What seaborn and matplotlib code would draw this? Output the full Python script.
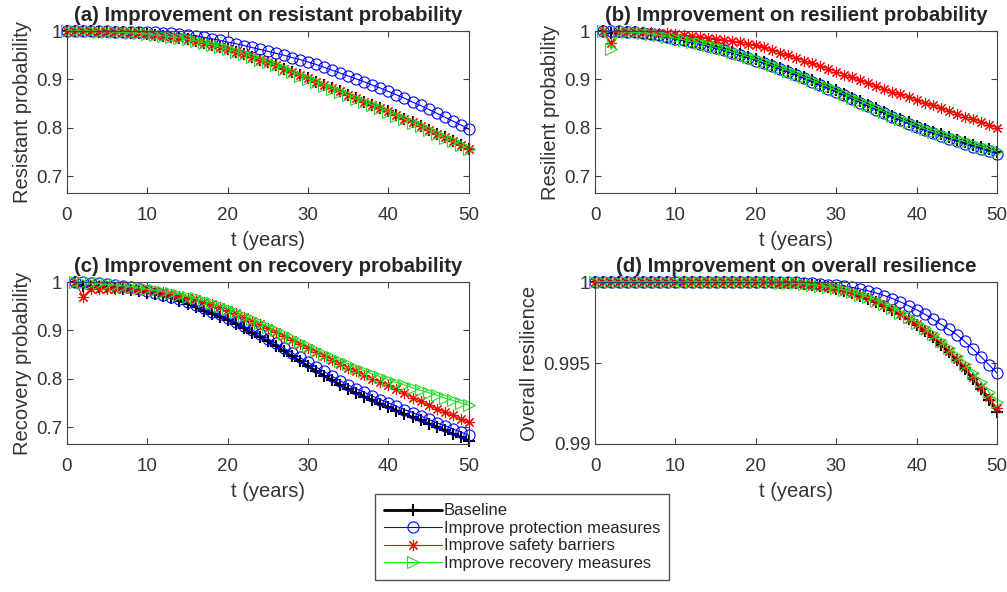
import numpy as np
import seaborn as sns
import matplotlib
matplotlib.use("Agg")
import matplotlib.pyplot as plt
from matplotlib.ticker import FuncFormatter

# --- data ---
t_full = list(range(0, 51))   # panels (a) and (d)
t_part = list(range(1, 51))   # panels (b) and (c) start at t = 1

series_names = ["Baseline", "Improve protection measures",
                "Improve safety barriers", "Improve recovery measures"]

# (a) resistant probability
a_base = [1.000, 1.000, 1.000, 1.000, 0.999, 0.999, 0.998, 0.997, 0.996, 0.995,
          0.994, 0.992, 0.990, 0.988, 0.986, 0.983, 0.980, 0.976, 0.972, 0.967,
          0.962, 0.957, 0.952, 0.946, 0.941, 0.935, 0.929, 0.922, 0.916, 0.909,
          0.902, 0.895, 0.888, 0.882, 0.875, 0.868, 0.861, 0.854, 0.848, 0.841,
          0.834, 0.826, 0.819, 0.811, 0.804, 0.796, 0.788, 0.780, 0.773, 0.765,
          0.757]
a_protect = [1.000, 1.000, 1.000, 1.000, 1.000, 1.000, 0.999, 0.999, 0.999, 0.998,
             0.998, 0.997, 0.996, 0.995, 0.994, 0.992, 0.990, 0.987, 0.984, 0.981,
             0.977, 0.974, 0.970, 0.966, 0.962, 0.958, 0.954, 0.950, 0.945, 0.941,
             0.936, 0.931, 0.925, 0.919, 0.913, 0.907, 0.901, 0.895, 0.888, 0.882,
             0.875, 0.868, 0.861, 0.853, 0.846, 0.838, 0.830, 0.822, 0.814, 0.806,
             0.797]
a_safety = [1.000, 1.000, 1.000, 1.000, 0.999, 0.999, 0.998, 0.997, 0.996, 0.995,
            0.994, 0.992, 0.990, 0.988, 0.986, 0.983, 0.980, 0.976, 0.972, 0.967,
            0.962, 0.957, 0.952, 0.946, 0.941, 0.935, 0.929, 0.922, 0.916, 0.909,
            0.902, 0.895, 0.888, 0.882, 0.875, 0.868, 0.861, 0.854, 0.848, 0.841,
            0.834, 0.826, 0.819, 0.811, 0.804, 0.796, 0.788, 0.780, 0.773, 0.765,
            0.757]
a_recovery = [1.000, 1.000, 1.000, 1.000, 0.999, 0.999, 0.998, 0.997, 0.996, 0.995,
              0.994, 0.992, 0.990, 0.988, 0.986, 0.983, 0.980, 0.976, 0.972, 0.967,
              0.962, 0.957, 0.952, 0.946, 0.941, 0.935, 0.929, 0.922, 0.915, 0.908,
              0.901, 0.894, 0.887, 0.881, 0.874, 0.867, 0.860, 0.853, 0.847, 0.840,
              0.833, 0.825, 0.818, 0.810, 0.803, 0.795, 0.787, 0.779, 0.772, 0.764,
              0.756]

# (b) resilient probability
b_base = [1.000, 0.996, 0.999, 0.998, 0.997, 0.996, 0.994, 0.991, 0.988, 0.985,
          0.982, 0.978, 0.975, 0.971, 0.966, 0.962, 0.957, 0.952, 0.947, 0.942,
          0.936, 0.930, 0.924, 0.918, 0.912, 0.905, 0.898, 0.891, 0.884, 0.877,
          0.870, 0.862, 0.855, 0.847, 0.840, 0.833, 0.825, 0.818, 0.811, 0.804,
          0.798, 0.792, 0.786, 0.780, 0.775, 0.770, 0.765, 0.760, 0.755, 0.750]
b_protect = [1.000, 1.000, 1.000, 0.999, 0.998, 0.996, 0.994, 0.991, 0.988, 0.984,
             0.981, 0.977, 0.973, 0.969, 0.964, 0.960, 0.955, 0.950, 0.945, 0.939,
             0.933, 0.927, 0.921, 0.915, 0.909, 0.902, 0.895, 0.888, 0.881, 0.874,
             0.867, 0.859, 0.852, 0.844, 0.837, 0.830, 0.822, 0.815, 0.808, 0.801,
             0.795, 0.789, 0.783, 0.777, 0.772, 0.766, 0.761, 0.756, 0.751, 0.746]
b_safety = [1.000, 0.975, 0.999, 0.999, 0.999, 0.998, 0.997, 0.996, 0.995, 0.993,
            0.991, 0.990, 0.988, 0.986, 0.984, 0.982, 0.979, 0.977, 0.974, 0.971,
            0.966, 0.961, 0.955, 0.950, 0.944, 0.939, 0.933, 0.927, 0.922, 0.916,
            0.910, 0.904, 0.898, 0.892, 0.886, 0.880, 0.874, 0.869, 0.863, 0.857,
            0.851, 0.846, 0.840, 0.835, 0.829, 0.823, 0.818, 0.812, 0.806, 0.800]
b_recovery = [1.000, 0.962, 0.998, 0.998, 0.997, 0.996, 0.994, 0.991, 0.988, 0.985,
              0.982, 0.978, 0.975, 0.971, 0.966, 0.962, 0.957, 0.952, 0.947, 0.942,
              0.936, 0.930, 0.924, 0.918, 0.912, 0.905, 0.898, 0.891, 0.884, 0.877,
              0.870, 0.862, 0.855, 0.847, 0.840, 0.833, 0.825, 0.818, 0.811, 0.804,
              0.798, 0.792, 0.786, 0.781, 0.776, 0.771, 0.766, 0.761, 0.756, 0.751]

# (c) recovery probability
c_base = [1.000, 0.992, 0.991, 0.990, 0.989, 0.988, 0.986, 0.984, 0.981, 0.978,
          0.975, 0.971, 0.967, 0.961, 0.955, 0.948, 0.941, 0.934, 0.928, 0.922,
          0.913, 0.904, 0.895, 0.886, 0.877, 0.867, 0.857, 0.846, 0.836, 0.826,
          0.816, 0.806, 0.797, 0.787, 0.778, 0.770, 0.763, 0.755, 0.748, 0.741,
          0.734, 0.727, 0.720, 0.714, 0.707, 0.700, 0.693, 0.686, 0.679, 0.672]
c_protect = [1.000, 1.000, 0.999, 0.998, 0.996, 0.994, 0.992, 0.989, 0.985, 0.981,
             0.977, 0.973, 0.969, 0.964, 0.958, 0.952, 0.946, 0.939, 0.933, 0.926,
             0.918, 0.909, 0.901, 0.892, 0.883, 0.873, 0.863, 0.854, 0.844, 0.834,
             0.824, 0.815, 0.805, 0.796, 0.787, 0.779, 0.772, 0.764, 0.757, 0.750,
             0.743, 0.736, 0.730, 0.723, 0.716, 0.709, 0.703, 0.696, 0.690, 0.683]
c_safety = [1.000, 0.970, 0.986, 0.986, 0.986, 0.986, 0.985, 0.985, 0.984, 0.983,
            0.981, 0.979, 0.976, 0.972, 0.968, 0.964, 0.959, 0.954, 0.949, 0.943,
            0.936, 0.928, 0.920, 0.913, 0.905, 0.897, 0.889, 0.881, 0.872, 0.864,
            0.856, 0.848, 0.839, 0.831, 0.823, 0.815, 0.808, 0.800, 0.793, 0.786,
            0.778, 0.770, 0.761, 0.753, 0.745, 0.738, 0.731, 0.724, 0.717, 0.710]
c_recovery = [1.000, 0.999, 0.998, 0.997, 0.995, 0.994, 0.992, 0.990, 0.988, 0.985,
              0.983, 0.980, 0.977, 0.974, 0.970, 0.966, 0.961, 0.956, 0.951, 0.945,
              0.938, 0.930, 0.923, 0.915, 0.908, 0.900, 0.892, 0.884, 0.876, 0.868,
              0.860, 0.852, 0.845, 0.837, 0.830, 0.823, 0.816, 0.810, 0.804, 0.798,
              0.792, 0.787, 0.781, 0.776, 0.771, 0.766, 0.760, 0.755, 0.750, 0.745]

# (d) overall resilience
d_base = [1.0] * 21 + [
    0.99999, 0.99998, 0.99997, 0.99995, 0.99992, 0.99988, 0.99983, 0.99976, 0.99968, 0.99958,
    0.99946, 0.99932, 0.99916, 0.99898, 0.99877, 0.99854, 0.99828, 0.99800, 0.99769, 0.99735,
    0.99698, 0.99658, 0.99614, 0.99567, 0.99516, 0.99461, 0.99402, 0.99339, 0.99272, 0.99200]
d_protect = [1.0] * 25 + [
    0.99998, 0.99996, 0.99993, 0.99989, 0.99984,
    0.99982, 0.99975, 0.99967, 0.99957, 0.99945, 0.99932, 0.99916, 0.99898, 0.99877, 0.99854,
    0.99829, 0.99802, 0.99772, 0.99740, 0.99709, 0.99675, 0.99633, 0.99588, 0.99540, 0.99490,
    0.99438]
d_safety = [1.0] * 21 + [
    0.99999, 0.99998, 0.99997, 0.99995, 0.99992, 0.99988, 0.99983, 0.99976, 0.99968, 0.99958,
    0.99947, 0.99933, 0.99918, 0.99900, 0.99880, 0.99857, 0.99832, 0.99804, 0.99774, 0.99741,
    0.99705, 0.99666, 0.99623, 0.99577, 0.99527, 0.99473, 0.99416, 0.99355, 0.99290, 0.99220]
d_recovery = [1.0] * 21 + [
    0.99999, 0.99998, 0.99997, 0.99995, 0.99993, 0.99989, 0.99984, 0.99978, 0.99970, 0.99961,
    0.99950, 0.99937, 0.99922, 0.99905, 0.99885, 0.99863, 0.99838, 0.99811, 0.99782, 0.99750,
    0.99715, 0.99677, 0.99636, 0.99592, 0.99545, 0.99494, 0.99440, 0.99382, 0.99321, 0.99257]

panels = [
    ("(a) Improvement on resistant probability", "Resistant probability", t_full,
     [a_base, a_protect, a_safety, a_recovery], (0.665, 1.0), [0.7, 0.8, 0.9, 1.0]),
    ("(b) Improvement on resilient probability", "Resilient probability", t_part,
     [b_base, b_protect, b_safety, b_recovery], (0.665, 1.0), [0.7, 0.8, 0.9, 1.0]),
    ("(c) Improvement on recovery probability", "Recovery probability", t_part,
     [c_base, c_protect, c_safety, c_recovery], (0.665, 1.0), [0.7, 0.8, 0.9, 1.0]),
    ("(d) Improvement on overall resilience", "Overall resilience", t_full,
     [d_base, d_protect, d_safety, d_recovery], (0.99, 1.0), [0.99, 0.995, 1.0]),
]

# --- styles (MATLAB-like): '+' black, 'o' blue, '*' red, '>' green ---
styles = [
    dict(color="black", marker="+", lw=2.0, ms=9, mew=1.5),
    dict(color="#0000ff", marker="o", lw=0.8, ms=8, mew=0.8),
    dict(color="#ff0000", marker=(8, 2, 0), lw=0.8, ms=8, mew=0.8),
    dict(color="#22e022", marker=">", lw=0.8, ms=8, mew=0.8),
]

sns.set_style("ticks")
plt.rcParams["font.family"] = ["Liberation Sans", "DejaVu Sans"]

fig = plt.figure(figsize=(10.07, 5.92), dpi=100)
positions = [
    [0.0665, 0.674, 0.399, 0.2736],
    [0.591, 0.674, 0.399, 0.2736],
    [0.0665, 0.250, 0.399, 0.2736],
    [0.591, 0.250, 0.399, 0.2736],
]

axes = []
for pos, (title, ylabel, t, ys, ylim, yticks) in zip(positions, panels):
    ax = fig.add_axes(pos)
    for name, y, st in zip(series_names, ys, styles):
        sns.lineplot(x=t, y=y, ax=ax, label=name, color=st["color"],
                     marker=st["marker"], linewidth=st["lw"], markersize=st["ms"],
                     markeredgewidth=st["mew"], markeredgecolor=st["color"],
                     markerfacecolor="none", clip_on=False, legend=False)
    ax.set_xlim(0, 50)
    ax.set_ylim(*ylim)
    ax.set_xticks([0, 10, 20, 30, 40, 50])
    ax.set_yticks(yticks)
    ax.yaxis.set_major_formatter(FuncFormatter(lambda v, p: f"{v:g}"))
    ax.tick_params(direction="in", top=True, right=True, length=4, width=0.8,
                   labelsize=13.5, labelcolor="#333333", color="#444444")
    ax.tick_params(axis="x", pad=10)
    ax.tick_params(axis="y", pad=3.5)
    for sp in ax.spines.values():
        sp.set_color("#444444")
        sp.set_linewidth(0.8)
        sp.set_visible(True)
    ax.set_title(title, fontsize=14.7, fontweight="bold", pad=7)
    ax.set_xlabel("t (years)", fontsize=14.5, color="#333333", labelpad=5)
    ax.set_ylabel(ylabel, fontsize=14.5, color="#333333", labelpad=3)
    axes.append(ax)

handles = axes[0].get_lines()[:4]
leg = fig.legend(handles, series_names, loc="lower left",
                 bbox_to_anchor=(0.372, 0.02), fontsize=12, frameon=True,
                 fancybox=False, edgecolor="#555555", framealpha=1,
                 labelspacing=0.15, handlelength=3.5, handletextpad=0.1,
                 borderpad=0.55, borderaxespad=0)
leg.get_frame().set_linewidth(1.0)

fig.savefig("out.png", dpi=100)
